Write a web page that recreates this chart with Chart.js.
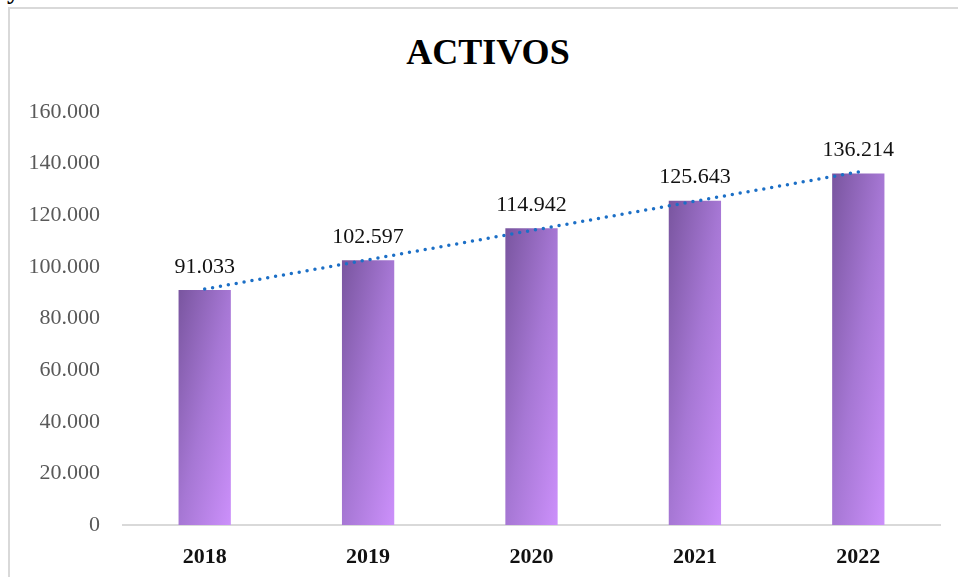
<!DOCTYPE html>
<html>
<head>
<meta charset="utf-8">
<script src="https://cdn.jsdelivr.net/npm/chart.js@4"></script>
<style>
  html, body { margin: 0; padding: 0; background: #fff; }
  #wrap { position: relative; width: 958px; height: 577px; overflow: hidden; }
  #frame {
    position: absolute; left: 8px; top: 7px; width: 1000px; height: 700px;
    border-left: 2px solid #d9d9d9; border-top: 2px solid #d9d9d9;
  }
  #cut {
    position: absolute; left: 7px; top: -24px;
    font: bold 26px "Liberation Serif", serif; color: #000;
  }
  #title {
    position: absolute; left: 0; top: 34px; width: 976px; text-align: center;
    font: bold 36px/36px "Liberation Serif", serif; color: #000;
  }
  canvas { position: absolute; left: 0; top: 0; }
</style>
</head>
<body>
<div id="wrap">
  <div id="frame"></div>
  <div id="cut">y</div>
  <div id="title">ACTIVOS</div>
  <canvas id="activosChart" width="958" height="577"></canvas>
</div>
<script>
const years = ["2018", "2019", "2020", "2021", "2022"];
const activos = [91033, 102597, 114942, 125643, 136214];
// linea de tendencia
const tendencia = [91400, 102750, 114090, 125430, 136770];
const yTicks = [0, 20000, 40000, 60000, 80000, 100000, 120000, 140000, 160000];

const SERIF = "'Liberation Serif', 'DejaVu Serif', serif";

function fmt(v) {
  return v.toLocaleString("de-DE");
}

// degradado diagonal dentro de cada barra
function barGradient(context) {
  const chart = context.chart;
  const xs = chart.scales.x, ys = chart.scales.y;
  if (!xs || !ys || context.dataIndex === undefined) return "#a476d0";
  const cx = xs.getPixelForValue(context.dataIndex);
  const w = xs.width / years.length * 0.32;
  const top = ys.getPixelForValue(activos[context.dataIndex]);
  const bot = ys.getPixelForValue(0);
  if (![cx, w, top, bot].every(Number.isFinite) || w <= 0 || bot - top <= 0) return "#a476d0";
  const h = bot - top;
  const x0 = cx - w / 2, y0 = top;
  const d2 = 1 / (w * w) + 1 / (h * h);
  const x1 = x0 + 2 / (w * d2), y1 = y0 + 2 / (h * d2);
  const g = chart.ctx.createLinearGradient(x0, y0, x1, y1);
  g.addColorStop(0, "#79559f");
  g.addColorStop(0.5, "#a677d4");
  g.addColorStop(1, "#cc90fb");
  return g;
}

const barLabels = {
  id: "barLabels",
  afterDatasetsDraw(chart) {
    const { ctx } = chart;
    const meta = chart.getDatasetMeta(1);
    ctx.save();
    ctx.font = "22px " + SERIF;
    ctx.fillStyle = "#111";
    ctx.textAlign = "center";
    ctx.textBaseline = "bottom";
    meta.data.forEach((bar, i) => {
      ctx.fillText(fmt(activos[i]), bar.x, bar.y - 12);
    });
    ctx.restore();
  }
};

new Chart(document.getElementById("activosChart"), {
  data: {
    labels: years,
    datasets: [
      {
        type: "line",
        label: "Tendencia",
        data: tendencia,
        borderColor: "#1c6fc6",
        borderWidth: 3.5,
        borderDash: [0, 8],
        borderCapStyle: "round",
        pointRadius: 0,
        tension: 0,
        fill: false,
        order: 0
      },
      {
        type: "bar",
        label: "Activos",
        data: activos,
        backgroundColor: barGradient,
        borderWidth: 0,
        barPercentage: 0.32,
        categoryPercentage: 1,
        order: 1
      }
    ]
  },
  options: {
    responsive: false,
    animation: false,
    layout: { padding: { left: 0, right: 18, top: 112, bottom: 0 } },
    plugins: {
      legend: { display: false },
      tooltip: { enabled: false },
      title: { display: false }
    },
    scales: {
      x: {
        afterFit(scale) { scale.height = 52; },
        grid: { display: false, drawTicks: false },
        border: { display: true, color: "#d9d9d9", width: 2 },
        ticks: {
          color: "#111",
          padding: 19,
          font: { family: SERIF, size: 22, weight: "bold" }
        }
      },
      y: {
        min: 0,
        max: 160000,
        afterFit(scale) { scale.width = 123; },
        afterBuildTicks(scale) { scale.ticks = yTicks.map(v => ({ value: v })); },
        grid: { display: false, drawTicks: false },
        border: { display: false },
        ticks: {
          color: "#595959",
          padding: 23,
          font: { family: SERIF, size: 22 },
          callback: (v) => fmt(v)
        }
      }
    }
  },
  plugins: [barLabels]
});
</script>
</body>
</html>
